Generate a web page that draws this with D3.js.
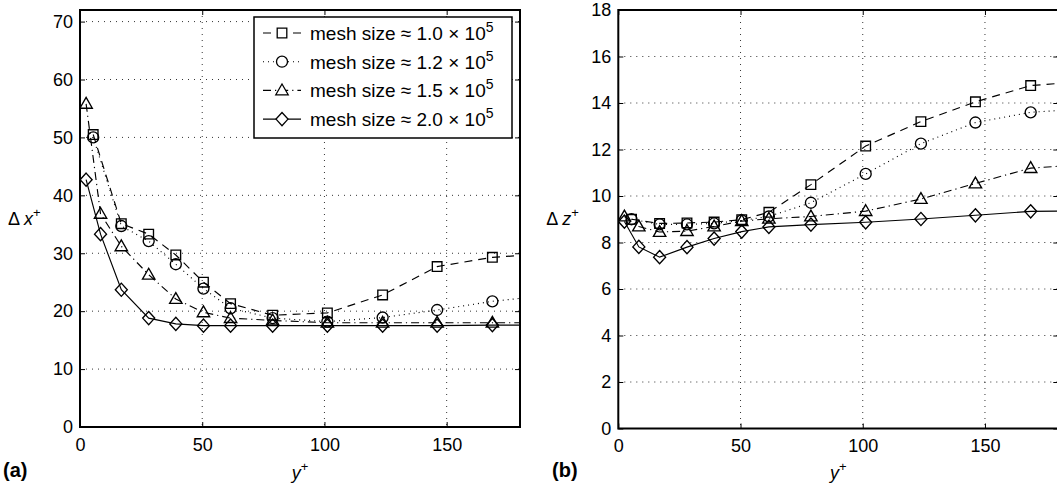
<!DOCTYPE html>
<html lang="en">
<head>
<meta charset="UTF-8">
<title>mesh size comparison</title>
<script src="https://d3js.org/d3.v7.min.js"></script>
<style>
  body { margin: 0; background: #fff; }
  text { font-family: "Liberation Sans", Arial, Helvetica, sans-serif; fill: #000; }
</style>
</head>
<body>
<script>
  // y+ sampling positions (last point lies past the axis limit, the line runs off the frame)
  const yPlusCoarse = [5.4, 16.9, 28.1, 39.2, 50.5, 61.6, 78.8, 101.2, 123.8, 146.1, 168.7, 191];
  const yPlusFine = [2.5, 8.4, 16.9, 28.1, 39.2, 50.5, 61.6, 78.8, 101.2, 123.8, 146.1, 168.7, 191];

  const meshLabels = ['1.0', '1.2', '1.5', '2.0'];

  // panel (a): delta x+
  const dx10 = [50.5, 35.1, 33.3, 29.7, 25.0, 21.3, 19.3, 19.7, 22.8, 27.7, 29.3, 29.9];
  const dx12 = [50.0, 34.7, 32.1, 28.1, 23.9, 20.5, 18.8, 18.2, 18.9, 20.2, 21.7, 22.7];
  const dx15 = [55.8, 36.8, 31.2, 26.3, 22.1, 19.8, 18.8, 18.4, 18.0, 18.0, 18.0, 18.0, 18.0];
  const dx20 = [42.7, 33.3, 23.7, 18.8, 17.8, 17.5, 17.5, 17.5, 17.5, 17.5, 17.5, 17.6, 17.6];

  // panel (b): delta z+
  const dz10 = [9.0, 8.82, 8.84, 8.88, 8.98, 9.3, 10.49, 12.15, 13.2, 14.05, 14.75, 14.93];
  const dz12 = [9.0, 8.78, 8.78, 8.82, 8.95, 9.12, 9.71, 10.95, 12.25, 13.16, 13.6, 13.75];
  const dz15 = [9.12, 8.69, 8.45, 8.49, 8.69, 8.92, 9.02, 9.12, 9.35, 9.87, 10.54, 11.2, 11.35];
  const dz20 = [8.9, 7.81, 7.37, 7.8, 8.17, 8.47, 8.67, 8.77, 8.87, 9.01, 9.17, 9.34, 9.36];

  const xTicks = [0, 50, 100, 150];
  const dxTicks = [0, 10, 20, 30, 40, 50, 60, 70];
  const dzTicks = [0, 2, 4, 6, 8, 10, 12, 14, 16, 18];

  const styles = [
    { marker: 'square', dash: '8,6' },
    { marker: 'circle', dash: '1,4' },
    { marker: 'triangle', dash: '8,4,1.2,4' },
    { marker: 'diamond', dash: null }
  ];

  const FS = 18;
  const svg = d3.select('body').append('svg').attr('width', 1057).attr('height', 486);

  // marker outlines, centred on 0,0
  function markerPath(type) {
    switch (type) {
      case 'square': return 'M-4.8,-4.8H4.8V4.8H-4.8Z';
      case 'circle': return 'M5.5,0A5.5,5.5 0 1,1 -5.5,0A5.5,5.5 0 1,1 5.5,0Z';
      case 'triangle': return 'M0,-6.4L6.2,4.4H-6.2Z';
      case 'diamond': return 'M0,-6.6L6,0L0,6.6L-6,0Z';
    }
  }

  function drawPanel(cfg) {
    const x = d3.scaleLinear().domain([0, 180]).range([cfg.left, cfg.left + 440]);
    const y = d3.scaleLinear().domain([0, cfg.ymax]).range([cfg.bottom, 10]);
    const g = svg.append('g');

    const clipId = 'clip-' + cfg.id;
    svg.append('clipPath').attr('id', clipId).append('rect')
      .attr('x', cfg.left).attr('y', 10).attr('width', 440).attr('height', cfg.bottom - 10);

    // dotted grid
    const grid = g.append('g').attr('clip-path', `url(#${clipId})`)
      .attr('stroke', '#000').attr('stroke-width', 0.8).attr('stroke-dasharray', '1,5');
    grid.selectAll('.gx').data(xTicks.filter(d => d > 0)).join('line')
      .attr('x1', d => x(d)).attr('x2', d => x(d)).attr('y1', 10).attr('y2', cfg.bottom);
    grid.selectAll('.gy').data(cfg.ticks.filter(d => d > 0)).join('line')
      .attr('x1', cfg.left).attr('x2', cfg.left + 440).attr('y1', d => y(d)).attr('y2', d => y(d));

    // series
    const plot = g.append('g').attr('clip-path', `url(#${clipId})`);
    const line = d3.line().x(d => x(d[0])).y(d => y(d[1]));
    cfg.series.forEach((vals, i) => {
      const xs = vals.length === yPlusFine.length ? yPlusFine : yPlusCoarse;
      const pts = vals.map((v, k) => [xs[k], v]);
      plot.append('path').attr('d', line(pts)).attr('fill', 'none')
        .attr('stroke', '#000').attr('stroke-width', 1.15)
        .attr('stroke-dasharray', styles[i].dash);
      plot.selectAll(null).data(pts).join('path')
        .attr('transform', d => `translate(${x(d[0])},${y(d[1])})`)
        .attr('d', markerPath(styles[i].marker))
        .attr('fill', 'none').attr('stroke', '#000').attr('stroke-width', 1.35);
    });

    // axes, ticks inside on all four sides
    const axes = [
      { ax: d3.axisBottom(x).tickValues(xTicks).tickPadding(11), tr: `translate(0,${cfg.bottom})` },
      { ax: d3.axisTop(x).tickValues(xTicks).tickFormat(''), tr: 'translate(0,10)' },
      { ax: d3.axisLeft(y).tickValues(cfg.ticks).tickPadding(7), tr: `translate(${cfg.left},0)` },
      { ax: d3.axisRight(y).tickValues(cfg.ticks).tickFormat(''), tr: `translate(${cfg.left + 440},0)` }
    ];
    axes.forEach(a => {
      const ag = g.append('g').attr('transform', a.tr)
        .call(a.ax.tickSize(-5))
        .call(s => s.select('.domain').remove());
      ag.selectAll('line').attr('stroke', '#000').attr('stroke-width', 1);
      ag.selectAll('text').attr('font-size', FS)
        .attr('font-family', '"Liberation Sans", Arial, sans-serif').attr('fill', '#000');
    });

    // frame
    g.append('rect').attr('x', cfg.left).attr('y', 10).attr('width', 440).attr('height', cfg.bottom - 10)
      .attr('fill', 'none').attr('stroke', '#000').attr('stroke-width', 2);

    // axis titles
    const yl = g.append('text').attr('x', cfg.left - 72).attr('y', 225).attr('font-size', FS);
    yl.append('tspan').text('\u0394 ');
    yl.append('tspan').attr('font-style', 'italic').text(cfg.qty);
    yl.append('tspan').attr('dy', -8).attr('font-size', 13).text('+');

    const xl = g.append('text').attr('x', cfg.left + 220).attr('y', 479)
      .attr('text-anchor', 'middle').attr('font-size', FS);
    xl.append('tspan').attr('font-style', 'italic').text('y');
    xl.append('tspan').attr('dy', -8).attr('font-size', 13).text('+');

    g.append('text').attr('x', cfg.tagX).attr('y', 477).attr('font-size', 20)
      .attr('font-weight', 'bold').text(cfg.tag);

    return { x, y, g };
  }

  const pa = drawPanel({ id: 'a', left: 80, bottom: 427, ymax: 72, ticks: dxTicks,
    series: [dx10, dx12, dx15, dx20], qty: 'x', tag: '(a)', tagX: 3 });
  drawPanel({ id: 'b', left: 618.3, bottom: 428.5, ymax: 18, ticks: dzTicks,
    series: [dz10, dz12, dz15, dz20], qty: 'z', tag: '(b)', tagX: 552 });

  // legend in panel (a)
  const leg = pa.g.append('g');
  leg.append('rect').attr('x', 254).attr('y', 17).attr('width', 258).attr('height', 121)
    .attr('fill', '#fff').attr('stroke', '#000').attr('stroke-width', 1.5);
  meshLabels.forEach((lab, i) => {
    const ry = 33 + i * 28.7;
    leg.append('line').attr('x1', 263).attr('x2', 301).attr('y1', ry).attr('y2', ry)
      .attr('stroke', '#000').attr('stroke-width', 1.1)
      .attr('stroke-dasharray', i === 0 ? '8,22' : styles[i].dash);
    leg.append('path').attr('transform', `translate(282,${ry})`)
      .attr('d', markerPath(styles[i].marker))
      .attr('fill', '#fff').attr('stroke', '#000').attr('stroke-width', 1.3);
    const t = leg.append('text').attr('x', 310).attr('y', ry + 7).attr('font-size', 19);
    t.append('tspan').text(`mesh size \u2248 ${lab} \u00d7 10`);
    t.append('tspan').attr('dy', -8).attr('font-size', 14).text('5');
  });
</script>
</body>
</html>
